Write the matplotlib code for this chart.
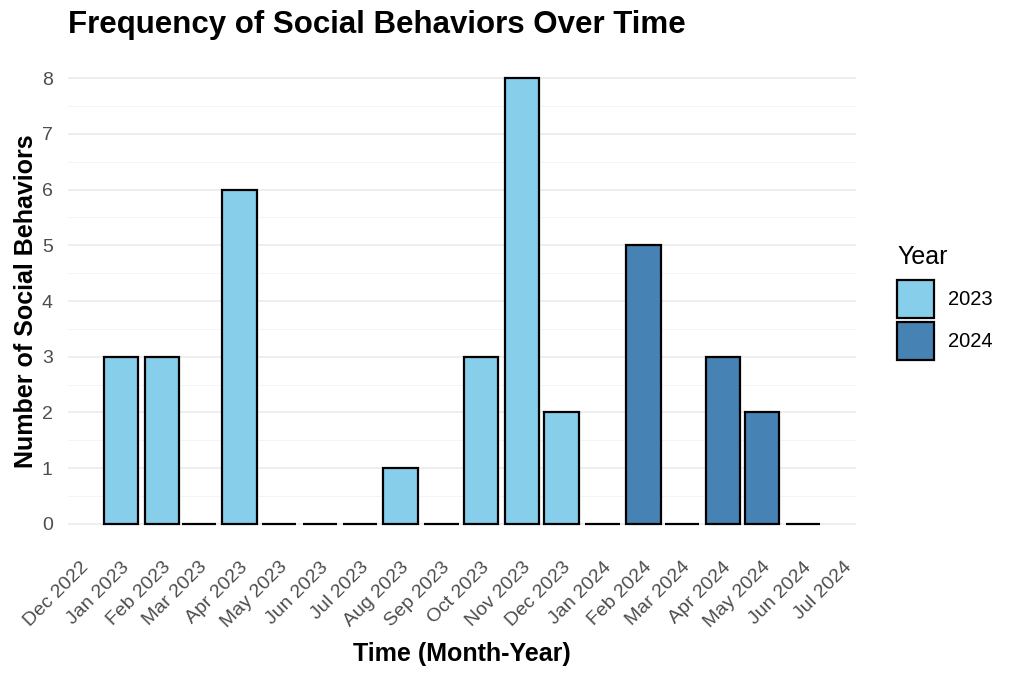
import numpy as np
import pandas as pd
import matplotlib
matplotlib.use('Agg')
import matplotlib.pyplot as plt
from matplotlib.patches import Patch

plt.rcParams['font.family'] = ['Liberation Sans', 'DejaVu Sans']

months = pd.date_range('2023-01-01', '2024-06-01', freq='MS')
counts = [3, 3, 0, 6, 0, 0, 0, 1, 0, 3, 8, 2, 0, 5, 0, 3, 2, 0]
years = [d.year for d in months]
year_colors = {2023: '#87CEEB', 2024: '#4682B4'}

fig = plt.figure(figsize=(10.24, 6.82), dpi=100)
ax = fig.add_axes([68 / 1024, 136 / 682, (856 - 68) / 1024, (546 - 56) / 682])

colors = [year_colors[y] for y in years]
ax.bar(months, counts, width=26, color=colors, edgecolor='black', linewidth=1.6, zorder=3)

ax.set_xlim(pd.Timestamp('2022-11-22'), pd.Timestamp('2024-07-11'))
ax.set_ylim(-0.4, 8.4)

ticks = pd.date_range('2022-12-01', '2024-07-01', freq='MS')
ax.set_xticks(ticks)
ax.set_xticklabels([t.strftime('%b %Y') for t in ticks], rotation=45, ha='right',
                   rotation_mode='anchor', fontsize=14, color='#4D4D4D')
ax.set_yticks(range(0, 9))
ax.set_yticks(np.arange(0.5, 8, 1), minor=True)
ax.tick_params(axis='y', labelsize=14, labelcolor='#4D4D4D', length=0, pad=11)
ax.tick_params(axis='x', length=0, pad=9)
ax.tick_params(which='minor', length=0)

ax.grid(axis='y', which='major', color='#EBEBEB', linewidth=1.2, zorder=0)
ax.grid(axis='y', which='minor', color='#F2F2F2', linewidth=0.6, zorder=0)
for s in ax.spines.values():
    s.set_visible(False)

ax.set_xlabel('Time (Month-Year)', fontsize=18, fontweight='bold', labelpad=8)
ax.set_ylabel('Number of Social Behaviors', fontsize=18, fontweight='bold', labelpad=3)
fig.text(68 / 1024, 1 - 25 / 682, 'Frequency of Social Behaviors Over Time',
         fontsize=22.5, fontweight='bold', va='center', ha='left')

handles = [Patch(facecolor=year_colors[y], edgecolor='black', linewidth=1.6, label=str(y))
           for y in [2023, 2024]]
leg = fig.legend(handles=handles, title='Year', loc='upper left',
                 bbox_to_anchor=(879 / 1024, 1 - 227 / 682), frameon=False,
                 fontsize=14.5, title_fontsize=18, handlelength=1.85, handleheight=2.5,
                 labelspacing=0.2, handletextpad=0.7, alignment='left')
# more room between the legend title and the keys
leg._legend_box.sep = 8

fig.savefig('out.png', dpi=100)
